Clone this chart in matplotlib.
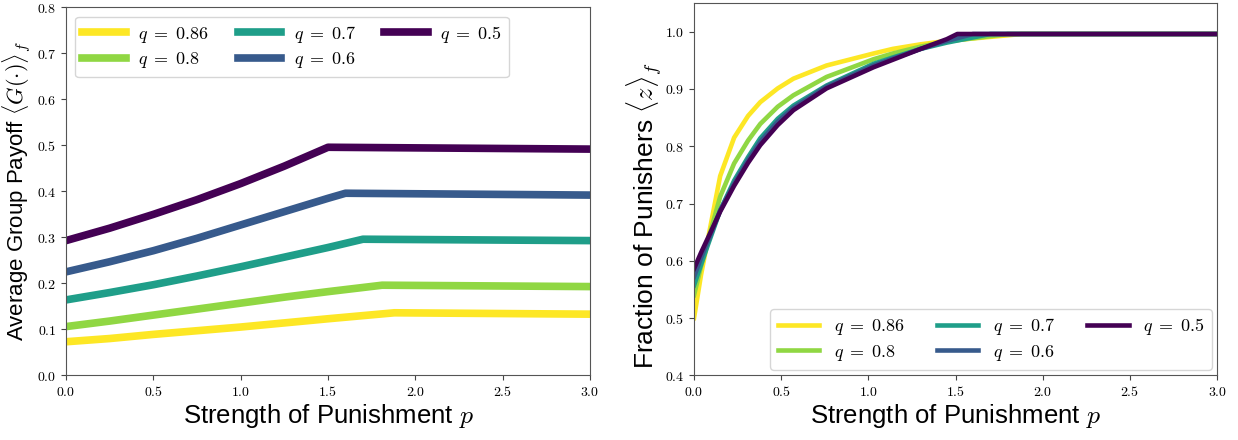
import matplotlib
matplotlib.use("Agg")
import matplotlib.pyplot as plt
from matplotlib.ticker import FuncFormatter

plt.rcParams['mathtext.fontset'] = 'cm'
plt.rcParams['font.family'] = ['Liberation Sans', 'DejaVu Sans']

q_values = [0.86, 0.8, 0.7, 0.6, 0.5]
q_labels = [r'$q\;=\;0.86$', r'$q\;=\;0.8$', r'$q\;=\;0.7$', r'$q\;=\;0.6$', r'$q\;=\;0.5$']

# left panel: average group payoff
payoff_p = {
    0.86: [0.0, 0.25, 0.5, 0.75, 1.0, 1.25, 1.5, 1.88, 3.0],
    0.8:  [0.0, 0.25, 0.5, 0.75, 1.0, 1.25, 1.5, 1.81, 3.0],
    0.7:  [0.0, 0.25, 0.5, 0.75, 1.0, 1.25, 1.5, 1.70, 3.0],
    0.6:  [0.0, 0.25, 0.5, 0.75, 1.0, 1.25, 1.5, 1.60, 3.0],
    0.5:  [0.0, 0.25, 0.5, 0.75, 1.0, 1.25, 1.50, 3.0],
}
payoff_val = {
    0.86: [0.073, 0.080, 0.089, 0.097, 0.105, 0.114, 0.123, 0.136, 0.133],
    0.8:  [0.106, 0.118, 0.131, 0.144, 0.157, 0.170, 0.182, 0.196, 0.193],
    0.7:  [0.164, 0.180, 0.197, 0.216, 0.236, 0.257, 0.278, 0.296, 0.293],
    0.6:  [0.225, 0.247, 0.271, 0.298, 0.327, 0.356, 0.385, 0.396, 0.392],
    0.5:  [0.293, 0.320, 0.350, 0.382, 0.417, 0.455, 0.496, 0.492],
}

# right panel: fraction of punishers
frac_p = [0.0, 0.04, 0.08, 0.15, 0.23, 0.31, 0.38, 0.48, 0.57, 0.76, 1.03, 1.14, 1.30, 1.45]
frac_kink = {0.86: 1.88, 0.8: 1.80, 0.7: 1.70, 0.6: 1.60, 0.5: 1.51}
frac_val = {
    0.86: [0.500, 0.575, 0.638, 0.748, 0.815, 0.853, 0.877, 0.901, 0.918, 0.941, 0.962, 0.970, 0.978, 0.984],
    0.8:  [0.540, 0.590, 0.635, 0.712, 0.770, 0.810, 0.839, 0.869, 0.889, 0.921, 0.952, 0.962, 0.974, 0.983],
    0.7:  [0.557, 0.593, 0.628, 0.688, 0.740, 0.781, 0.814, 0.848, 0.871, 0.906, 0.944, 0.955, 0.970, 0.981],
    0.6:  [0.572, 0.605, 0.634, 0.688, 0.735, 0.776, 0.808, 0.843, 0.867, 0.904, 0.941, 0.953, 0.970, 0.984],
    0.5:  [0.586, 0.614, 0.640, 0.686, 0.731, 0.771, 0.802, 0.837, 0.863, 0.901, 0.938, 0.951, 0.970, 0.987],
}
frac_flat = 0.996

cmap = plt.cm.viridis
def qcolor(q):
    return cmap((q - 0.5) / 0.36)

tick_fmt = FuncFormatter(lambda v, pos: r'$%.1f$' % v)

fig = plt.figure(figsize=(12.38, 4.4), dpi=100)
ax1 = fig.add_axes([0.0533, 0.147, 0.4233, 0.836])
ax2 = fig.add_axes([0.5606, 0.147, 0.4225, 0.846])

for q, lab in zip(q_values, q_labels):
    ax1.plot(payoff_p[q], payoff_val[q], color=qcolor(q), lw=5.5, label=lab,
             solid_joinstyle='round')
    ps = frac_p + [frac_kink[q], 3.0]
    vs = frac_val[q] + [frac_flat, frac_flat]
    ax2.plot(ps, vs, color=qcolor(q), lw=3.3, label=lab, solid_joinstyle='round')

ax1.set_xlim(0, 3.0)
ax1.set_ylim(0, 0.8)
ax2.set_xlim(0, 3.0)
ax2.set_ylim(0.4, 1.05)

for ax in (ax1, ax2):
    ax.xaxis.set_major_formatter(tick_fmt)
    ax.yaxis.set_major_formatter(tick_fmt)
    ax.tick_params(labelsize=10, color='#444444', length=3.5)
    for s in ax.spines.values():
        s.set_color('#555555')
    ax.set_xlabel(r'Strength of Punishment $p$', fontsize=18.5, labelpad=2)

ax1.set_ylabel(r'Average Group Payoff $\langle G(\cdot)\rangle_f$', fontsize=16)
ax1.yaxis.set_label_coords(-0.062, 0.5)
ax2.set_ylabel(r'Fraction of Punishers $\langle z\rangle_f$', fontsize=19)
ax2.yaxis.set_label_coords(-0.056, 0.43)

ax1.legend(loc='upper left', ncol=3, fontsize=13, handlelength=2.4,
           columnspacing=1.6, handletextpad=0.7, borderaxespad=0.5,
           labelspacing=0.3)
ax2.legend(loc='lower right', ncol=3, fontsize=13, handlelength=2.3,
           columnspacing=1.8, handletextpad=0.8, borderaxespad=0.3,
           labelspacing=0.3)

fig.savefig('out.png', dpi=100)
